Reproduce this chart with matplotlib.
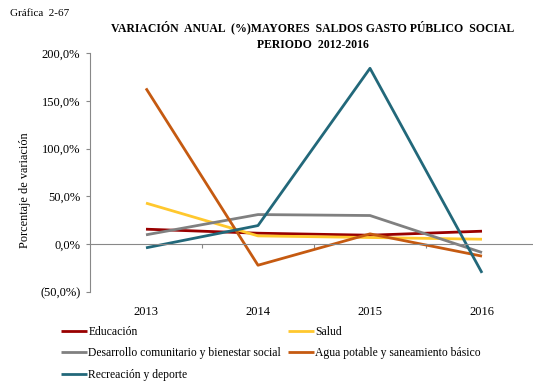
import matplotlib
matplotlib.use("Agg")
import matplotlib.pyplot as plt
from matplotlib.transforms import blended_transform_factory
from matplotlib.ticker import FuncFormatter

years = ["2013", "2014", "2015", "2016"]
educacion = [15.7, 11.5, 9.4, 13.6]
salud = [43.0, 8.7, 7.0, 5.2]
desarrollo = [9.8, 31.0, 30.0, -8.7]
agua = [163.0, -22.0, 10.8, -12.5]
recreacion = [-3.8, 19.5, 184.0, -30.0]

series = [
    ("Educación", educacion, "#990000"),
    ("Salud", salud, "#FFC82E"),
    ("Desarrollo comunitario y bienestar social", desarrollo, "#808080"),
    ("Agua potable y saneamiento básico", agua, "#C55A11"),
    ("Recreación y deporte", recreacion, "#22687A"),
]

plt.rcParams["font.family"] = ["Liberation Serif", "DejaVu Serif"]

W, H = 533, 381
fig = plt.figure(figsize=(W / 100, H / 100), dpi=100)
ax = fig.add_axes([90 / W, (H - 292) / H, 448 / W, (292 - 53) / H])

x = list(range(len(years)))
lines = {}
for name, vals, col in series:
    (ln,) = ax.plot(x, vals, color=col, lw=2.0, solid_capstyle="butt", label=name)
    lines[name] = ln

ax.set_xlim(-0.5, 3.5)
ax.set_ylim(-50, 200)
ax.set_yticks([-50, 0, 50, 100, 150, 200])


def pct(v, pos):
    s = f"{abs(v):.1f}".replace(".", ",") + "%"
    return f"({s})" if v < 0 else s


ax.yaxis.set_major_formatter(FuncFormatter(pct))
ax.tick_params(axis="y", direction="out", length=3, color="#888888",
               labelsize=9, pad=4)

for s in ["top", "right"]:
    ax.spines[s].set_visible(False)
ax.spines["left"].set_color("#888888")
ax.spines["bottom"].set_position(("data", 0))
ax.spines["bottom"].set_color("#888888")
ax.set_xticks([0.5, 1.5, 2.5])
ax.set_xticklabels([])
ax.tick_params(axis="x", direction="out", length=3, color="#888888")

trans = blended_transform_factory(ax.transData, ax.transAxes)
for i, yl in enumerate(years):
    ax.text(i, -20 / 239, yl, transform=trans, ha="center", va="center", fontsize=9)

fig.text(25 / W, (H - 190) / H, "Porcentaje de variación", rotation=90,
         ha="center", va="center", fontsize=8.8)

fig.text(10 / W, (H - 14) / H, "Gráfica  2-67", ha="left", va="center", fontsize=8)
fig.text(312.5 / W, (H - 35.5) / H,
         "VARIACIÓN  ANUAL  (%)MAYORES  SALDOS GASTO PÚBLICO  SOCIAL\nPERIODO  2012-2016",
         ha="center", va="center", fontsize=8.45, fontweight="bold", linespacing=1.5)

order = ["Educación", "Desarrollo comunitario y bienestar social", "Recreación y deporte",
         "Salud", "Agua potable y saneamiento básico"]
fig.legend([lines[n] for n in order], order, ncol=2, loc="upper left",
           bbox_to_anchor=(61 / W, (H - 326) / H), frameon=False, fontsize=8.4,
           handlelength=2.25, handletextpad=0.1, columnspacing=0.55,
           labelspacing=0.8, borderaxespad=0, borderpad=0)

fig.savefig("out.png", dpi=100)
